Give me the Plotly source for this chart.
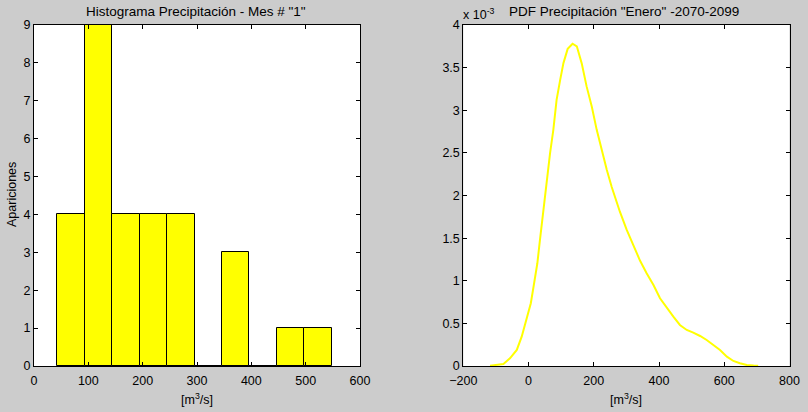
import plotly.graph_objects as go

# ---- Data ----
bin_centers = [68.25, 118.75, 169.25, 219.75, 270.25, 320.75, 371.25, 421.75, 472.25, 522.75]
bin_width = 50.5
counts = [4, 9, 4, 4, 4, 0, 3, 0, 1, 1]

pdf_x = [-118, -100, -77, -57, -36, -21, -6, 7, 17, 27, 35, 43, 51, 58, 66, 76, 86, 97, 107, 120,
         135, 148, 163, 178, 194, 209, 224, 240, 255, 268, 280, 301, 321, 342, 362, 383, 403, 424,
         444, 464, 485, 505, 526, 546, 567, 587, 608, 628, 648, 669, 690, 704]
pdf_y_e3 = [0.004, 0.01, 0.023, 0.09, 0.188, 0.344, 0.54, 0.736, 0.97, 1.205, 1.479, 1.75, 2.0, 2.26,
            2.496, 2.77, 3.122, 3.357, 3.553, 3.72, 3.78, 3.75, 3.55, 3.28, 3.04, 2.77, 2.535, 2.30,
            2.10, 1.95, 1.81, 1.596, 1.42, 1.234, 1.088, 0.95, 0.795, 0.677, 0.579, 0.481, 0.423,
            0.391, 0.352, 0.305, 0.246, 0.188, 0.109, 0.059, 0.032, 0.012, 0.006, 0.004]
pdf_y = [v * 1e-3 for v in pdf_y_e3]

hist_xticks = [0, 100, 200, 300, 400, 500, 600]
hist_yticks = [0, 1, 2, 3, 4, 5, 6, 7, 8, 9]
pdf_xticks = [-200, 0, 200, 400, 600, 800]
pdf_yticks = [0, 0.5e-3, 1e-3, 1.5e-3, 2e-3, 2.5e-3, 3e-3, 3.5e-3, 4e-3]
pdf_yticktext = ["0", "0.5", "1", "1.5", "2", "2.5", "3", "3.5", "4"]

title_left = 'Histograma Precipitación - Mes # "1"'
title_right = 'PDF Precipitación "Enero" -2070-2099'

W, H = 808, 412
FONT = "Liberation Sans, Arial, sans-serif"
FS = 12.5
FT = 13.5

fig = go.Figure()
fig.add_trace(go.Bar(
    x=bin_centers, y=counts, width=[bin_width] * len(counts),
    marker=dict(color="#ffff00", line=dict(color="black", width=1)),
    xaxis="x", yaxis="y", showlegend=False,
))
fig.add_trace(go.Scatter(
    x=pdf_x, y=pdf_y, mode="lines",
    line=dict(color="#ffff00", width=2),
    xaxis="x2", yaxis="y2", showlegend=False,
))

axis_common = dict(
    showline=True, linecolor="black", linewidth=1, mirror="ticks",
    ticks="inside", ticklen=4, tickcolor="black", tickwidth=1,
    showgrid=False, zeroline=False, automargin=False,
    tickfont=dict(family=FONT, size=FS, color="black"),
)

y0 = 1 - 366 / H
y1 = 1 - 25 / H
fig.update_layout(
    width=W, height=H,
    margin=dict(l=0, r=0, t=0, b=0, autoexpand=False),
    paper_bgcolor="#cccccc", plot_bgcolor="white",
    bargap=0,
    font=dict(family=FONT, size=FS, color="black"),
    xaxis=dict(domain=[34 / W, 360 / W], range=[0, 600], tickvals=hist_xticks, anchor="y",
               ticklabelstandoff=3, **axis_common),
    yaxis=dict(domain=[y0, y1], range=[0, 9], tickvals=hist_yticks, anchor="x", **axis_common),
    xaxis2=dict(domain=[463.3 / W, 789.5 / W], range=[-200, 800], tickvals=pdf_xticks, anchor="y2",
                ticklabelstandoff=3, **axis_common),
    yaxis2=dict(domain=[y0, y1], range=[0, 4e-3], tickvals=pdf_yticks, ticktext=pdf_yticktext,
                anchor="x2", **axis_common),
)

ann = dict(xref="paper", yref="paper", showarrow=False)
f_t = dict(family=FONT, size=FT, color="black")
f_l = dict(family=FONT, size=FS, color="black")
fig.add_annotation(x=196 / W, y=1 - 12 / H, text=title_left, xanchor="center", yanchor="middle", font=f_t, **ann)
fig.add_annotation(x=624 / W, y=1 - 12 / H, text=title_right, xanchor="center", yanchor="middle", font=f_t, **ann)
fig.add_annotation(x=197 / W, y=1 - 399 / H, text="[m<sup>3</sup>/s]", xanchor="center", yanchor="middle", font=f_l, **ann)
fig.add_annotation(x=626 / W, y=1 - 399 / H, text="[m<sup>3</sup>/s]", xanchor="center", yanchor="middle", font=f_l, **ann)
fig.add_annotation(x=12 / W, y=1 - 195 / H, text="Apariciones", textangle=-90, xanchor="center", yanchor="middle", font=f_l, **ann)
fig.add_annotation(x=461 / W, y=1 - 14 / H, text="x 10<sup>-3</sup>", xanchor="left", yanchor="middle", font=f_l, **ann)

fig.write_html("out.html")
